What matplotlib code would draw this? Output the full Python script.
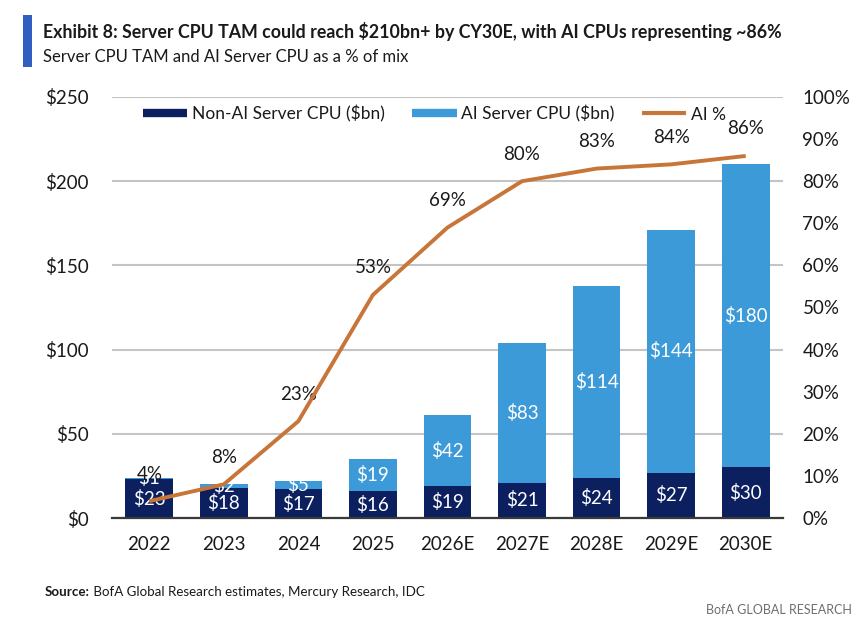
import matplotlib
matplotlib.use("Agg")
import matplotlib.pyplot as plt
from matplotlib.lines import Line2D
from matplotlib.patches import Rectangle
from matplotlib.ticker import FuncFormatter, MultipleLocator

FONT = ['Lato', 'DejaVu Sans']
plt.rcParams['font.family'] = FONT

years = ['2022', '2023', '2024', '2025', '2026E', '2027E', '2028E', '2029E', '2030E']
non_ai = [23, 18, 17, 16, 19, 21, 24, 27, 30]
ai = [1, 2, 5, 19, 42, 83, 114, 144, 180]
ai_pct = [4, 8, 23, 53, 69, 80, 83, 84, 86]

NAVY = '#0C1F5E'
LBLUE = '#3D9AD9'
ORANGE = '#C8753A'
GRID = '#C4C4C4'
TXT = '#1A1A1A'
FS = 13.5

W, H = 865, 633
fig = plt.figure(figsize=(W / 100, H / 100), dpi=100)

def fx(px):
    return px / W

def fy(py):
    return 1 - py / H

ax = fig.add_axes([fx(112), fy(518), fx(783) - fx(112), fy(97) - fy(518)])
ax2 = ax.twinx()
ax.set_zorder(1)
ax2.set_zorder(2)
ax.patch.set_visible(False)

x = list(range(len(years)))
bw = 0.64
b1 = ax.bar(x, non_ai, width=bw, color=NAVY, zorder=3)
b2 = ax.bar(x, ai, width=bw, bottom=non_ai, color=LBLUE, zorder=3)
ax.bar_label(b1, labels=[f'${v}' for v in non_ai], label_type='center',
             color='white', fontsize=FS)
ax.bar_label(b2, labels=[f'${v}' for v in ai], label_type='center',
             color='white', fontsize=FS)

ax.set_xlim(-0.5, len(years) - 0.5)
ax.set_ylim(0, 250)
ax.yaxis.set_major_locator(MultipleLocator(50))
ax.yaxis.set_major_formatter(FuncFormatter(lambda v, p: f'${v:.0f}'))
ax.grid(axis='y', color=GRID, lw=1.5, zorder=0)
ax.set_axisbelow(True)
for s in ['top', 'right', 'left']:
    ax.spines[s].set_visible(False)
ax.spines['bottom'].set_color('#3A3A3A')
ax.spines['bottom'].set_linewidth(1.6)
ax.spines['bottom'].set_zorder(4)
ax.set_xticks(x)
ax.set_xticklabels(years)
ax.tick_params(axis='x', length=0, pad=13, labelsize=FS, labelcolor=TXT)
ax.tick_params(axis='y', length=0, pad=17, labelsize=FS, labelcolor=TXT)

ax2.plot(x, ai_pct, color=ORANGE, lw=2.8, solid_capstyle='butt', zorder=5)
for xi, v in zip(x, ai_pct):
    ax2.annotate(f'{v}%', xy=(xi, v), xytext=(0, 19.5), textcoords='offset points',
                 ha='center', va='center', fontsize=FS, color=TXT)
ax2.set_ylim(0, 100)
ax2.yaxis.set_major_locator(MultipleLocator(10))
ax2.yaxis.set_major_formatter(FuncFormatter(lambda v, p: f'{v:.0f}%'))
ax2.tick_params(axis='y', length=0, pad=14, labelsize=FS, labelcolor=TXT)
for s in ['top', 'right', 'left', 'bottom']:
    ax2.spines[s].set_visible(False)

LFS = 12.5
handles = [Line2D([], [], color=NAVY, lw=6, solid_capstyle='butt'),
           Line2D([], [], color=LBLUE, lw=6, solid_capstyle='butt'),
           Line2D([], [], color=ORANGE, lw=3, solid_capstyle='butt')]
labels = ['Non-AI Server CPU ($bn)', 'AI Server CPU ($bn)', 'AI %']
leg = ax2.legend(handles, labels, loc='center left', bbox_to_anchor=(fx(143), fy(114)),
                 bbox_transform=fig.transFigure, borderpad=0, borderaxespad=0,
                 ncol=3, frameon=False, fontsize=LFS, handlelength=2.55,
                 handletextpad=0.25, columnspacing=1.6)
for t in leg.get_texts():
    t.set_color(TXT)

fig.add_artist(Rectangle((fx(23), fy(67)), fx(32) - fx(23), fy(15) - fy(67),
                         transform=fig.transFigure, color='#2F5FBF', lw=0))
fig.text(fx(43), fy(38), 'Exhibit 8: Server CPU TAM could reach $210bn+ by CY30E, with AI CPUs representing ~86%',
         fontsize=12.8, fontweight='bold', color=TXT, va='baseline')
fig.text(fx(43), fy(62), 'Server CPU TAM and AI Server CPU as a % of mix',
         fontsize=12, color=TXT, va='baseline')

t1 = fig.text(fx(45), fy(596), 'Source:', fontsize=9.6, fontweight='bold', color=TXT, va='baseline')
ax.annotate(' BofA Global Research estimates, Mercury Research, IDC', xy=(1, 0),
            xycoords=t1, va='bottom', ha='left', fontsize=9.6, color=TXT,
            annotation_clip=False)
fig.text(fx(852), fy(614), 'BofA GLOBAL RESEARCH', fontsize=9, color='#6E6E6E',
         ha='right', va='baseline')

fig.savefig('out.png', dpi=100, facecolor='white')
